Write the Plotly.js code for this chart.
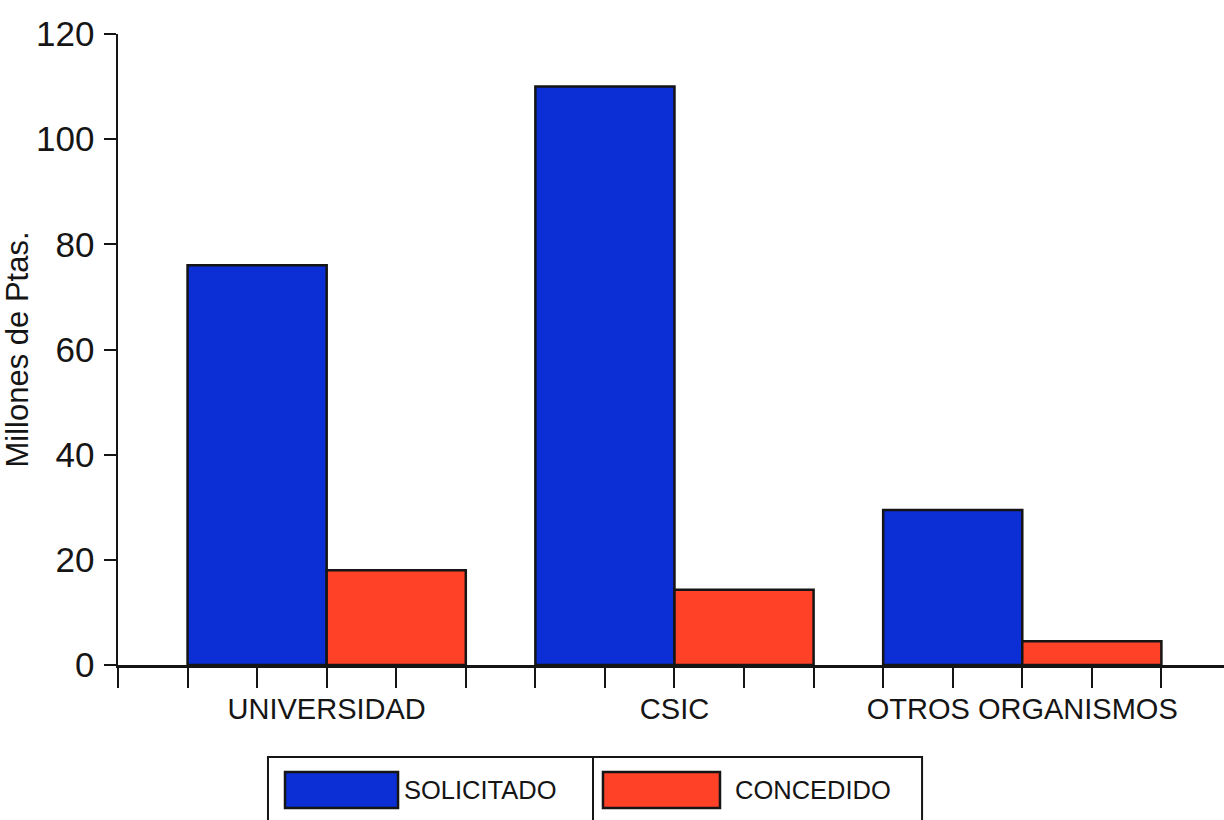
<!DOCTYPE html>
<html>
<head>
<meta charset="utf-8">
<script src="https://cdn.plot.ly/plotly-3.0.1.min.js"></script>
<style>html,body{margin:0;padding:0;background:#fff;}#chart{width:1224px;height:820px;}</style>
</head>
<body>
<div id="chart"></div>
<script>
const categories = ["UNIVERSIDAD", "CSIC", "OTROS ORGANISMOS"];
const solicitado = [76, 110, 29.5];
const concedido = [18, 14.3, 4.5];
const seriesNames = ["SOLICITADO", "CONCEDIDO"];
const yTicks = [0, 20, 40, 60, 80, 100, 120];

const BLUE = "#0b2fd4";
const RED = "#ff4128";
const INK = "#151515";
const FONT = "Liberation Sans, Arial, sans-serif";

const traces = [
  {type: "bar", name: seriesNames[0], x: categories, y: solicitado,
   marker: {color: BLUE, line: {color: INK, width: 2.5}}, showlegend: false, hoverinfo: "none"},
  {type: "bar", name: seriesNames[1], x: categories, y: concedido,
   marker: {color: RED, line: {color: INK, width: 2.5}}, showlegend: false, hoverinfo: "none"},
  {type: "scatter", x: [], y: [], xaxis: "x2", yaxis: "y", showlegend: false, hoverinfo: "none"}
];

// legend geometry (paper coords)
const lx0 = 0.1356, lx1 = 0.727, ldiv = 0.4295, ly0 = -0.1458, ly1 = -0.28;
const shapes = [
  {type: "rect", xref: "paper", yref: "paper", x0: lx0, x1: lx1, y0: ly1, y1: ly0, line: {color: INK, width: 2}, fillcolor: "rgba(0,0,0,0)"},
  {type: "line", xref: "paper", yref: "paper", x0: ldiv, x1: ldiv, y0: ly1, y1: ly0, line: {color: INK, width: 2}},
  {type: "rect", xref: "paper", yref: "paper", x0: 0.151, x1: 0.2532, y0: -0.2266, y1: -0.1696, line: {color: INK, width: 2.5}, fillcolor: BLUE},
  {type: "rect", xref: "paper", yref: "paper", x0: 0.4385, x1: 0.5443, y0: -0.2266, y1: -0.1696, line: {color: INK, width: 2.5}, fillcolor: RED}
];
const annotations = [
  {xref: "paper", yref: "paper", x: 0.2568, y: -0.198, xanchor: "left", yanchor: "middle", text: seriesNames[0], showarrow: false, font: {family: FONT, size: 25.5, color: INK}},
  {xref: "paper", yref: "paper", x: 0.556, y: -0.198, xanchor: "left", yanchor: "middle", text: seriesNames[1], showarrow: false, font: {family: FONT, size: 25.5, color: INK}}
];

const layout = {
  width: 1224, height: 820,
  margin: {l: 118, r: 0, t: 34, b: 155},
  paper_bgcolor: "#fff", plot_bgcolor: "#fff",
  barmode: "group", bargap: 0.2, bargroupgap: 0,
  font: {family: FONT, color: INK},
  xaxis: {
    type: "category", range: [-0.6, 2.58],
    showline: true, linecolor: INK, linewidth: 2.5,
    ticks: "outside", ticklen: 15, tickcolor: "rgba(0,0,0,0)", ticklabelstandoff: 2,
    tickfont: {family: FONT, size: 29, color: INK},
    showgrid: false, zeroline: false, fixedrange: true
  },
  xaxis2: {
    overlaying: "x", anchor: "y", side: "bottom", range: [0, 15.9],
    tick0: 0, dtick: 1, ticks: "outside", ticklen: 22, tickwidth: 2, tickcolor: INK,
    showticklabels: false, showline: false, showgrid: false, zeroline: false
  },
  yaxis: {
    range: [0, 120], tickvals: yTicks, ticktext: yTicks.map(String),
    ticks: "outside", ticklen: 12, tickwidth: 2, tickcolor: INK,
    showline: true, linecolor: INK, linewidth: 2.5,
    tickfont: {family: FONT, size: 35, color: INK}, ticklabelstandoff: 2,
    showgrid: false, zeroline: false,
    title: {text: "Millones de Ptas.", font: {family: FONT, size: 31, color: INK}, standoff: 0}
  },
  shapes: shapes,
  annotations: annotations
};

Plotly.newPlot("chart", traces, layout, {displayModeBar: false, staticPlot: true});
</script>
</body>
</html>
